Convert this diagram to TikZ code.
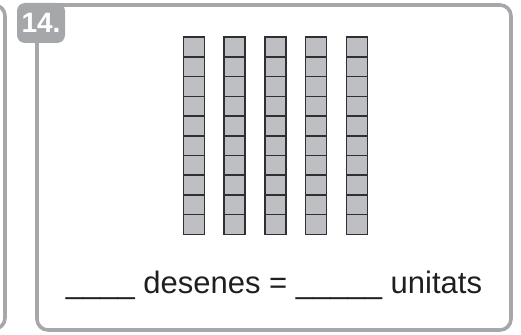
\documentclass[tikz,border=0pt]{standalone}
\usepackage{fontspec}
\setmainfont{Liberation Sans}
\usetikzlibrary{positioning}
\definecolor{framegray}{RGB}{166,167,170}
\definecolor{cubegray}{RGB}{190,191,195}
\definecolor{cubeline}{RGB}{48,48,50}

\begin{document}
\begin{tikzpicture}[x=1pt, y=-1pt,
  cube/.style={draw=cubeline, fill=cubegray, line width=1.5pt, minimum width=21pt, minimum height=19.7pt, inner sep=0pt, anchor=north west},
  panel/.style={draw=framegray, line width=3.6pt, rounded corners=11pt}]
\useasboundingbox (0,0) rectangle (521,334);

% edge of the previous panel
\draw[panel] (-12,5) -- (5,5) -- (5,329) -- (-12,329);

% panel frame
\draw[panel] (55,5) -- (511,5) -- (511,330) -- (37,330) -- (37,40);

% number badge
\node[fill=framegray, rounded corners=8pt, minimum width=48pt, minimum height=40pt, inner sep=0pt,
  text=white, font=\bfseries\fontsize{28}{28}\selectfont] (badge) at (41,23) {14.};

% five rods of ten cubes
\foreach \i in {0,...,4}
  \foreach \j in {0,...,9}
    \node[cube] (c\i-\j) at ({182.5+40.8*\i}, {36.5+19.7*\j}) {};

% sentence
\node[anchor=base, text=black!88, font=\fontsize{31}{31}\selectfont, inner sep=0pt] (sentence) at (274,293)
  {\_\_\_\_ desenes = \_\_\_\_\_ unitats};
\end{tikzpicture}
\end{document}
